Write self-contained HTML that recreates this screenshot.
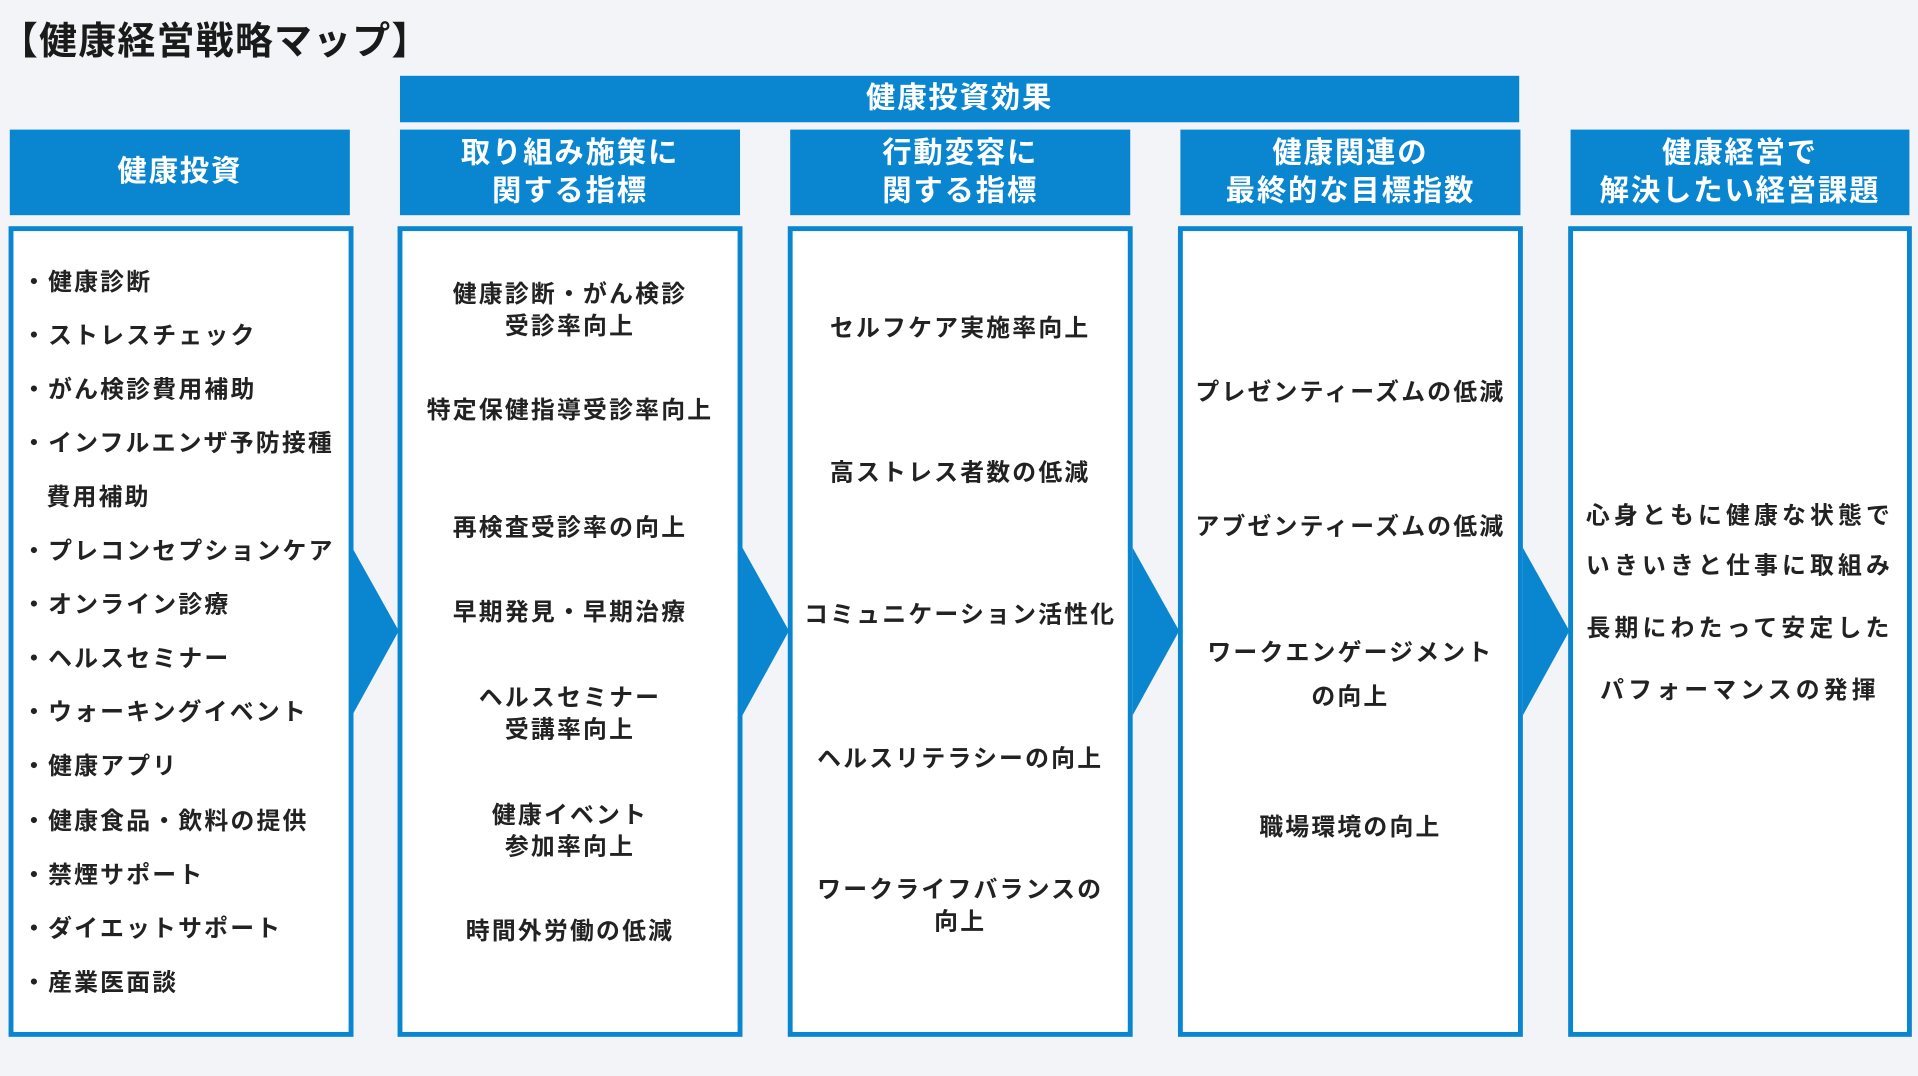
<!DOCTYPE html>
<html><head><meta charset="utf-8"><style>
html,body{margin:0;padding:0;background:#f3f4f8;width:1918px;height:1076px;overflow:hidden}
#s{position:absolute;left:0;top:0;width:1568px;height:880px;transform:scale(1.2232,1.2227);transform-origin:0 0;font-family:"Liberation Sans","Noto Sans CJK JP",sans-serif;color:#222}
.a{position:absolute}
.h{position:absolute;background:#0a86d1;color:#fff;font-weight:700;font-size:24px;text-align:center;line-height:31px;letter-spacing:1.5px}
.b{position:absolute;background:#fff;border:4px solid #0a86d1;box-sizing:border-box;top:185px;height:663px}
.t{position:absolute;font-size:19.5px;font-weight:700;line-height:26px;white-space:nowrap;color:#222;letter-spacing:1.8px}
.c{text-align:center}
.r{letter-spacing:3.4px}
</style></head><body><div id="s">
<div class="a" style="left:0;top:8px;font-size:31px;font-weight:700;color:#1a1a1a;letter-spacing:1px">【健康経営戦略マップ】</div>
<div class="h" style="left:327px;top:62px;width:915px;height:38px;line-height:38px">健康投資効果</div>
<div class="h" style="left:8px;top:106px;width:278px;height:70px;line-height:70px">健康投資</div>
<div class="h" style="left:327px;top:106px;width:278px;height:70px;padding-top:4px;box-sizing:border-box">取り組み施策に<br>関する指標</div>
<div class="h" style="left:646px;top:106px;width:278px;height:70px;padding-top:4px;box-sizing:border-box">行動変容に<br>関する指標</div>
<div class="h" style="left:965px;top:106px;width:278px;height:70px;padding-top:4px;box-sizing:border-box">健康関連の<br>最終的な目標指数</div>
<div class="h" style="left:1284px;top:106px;width:277px;height:70px;padding-top:4px;box-sizing:border-box">健康経営で<br>解決したい経営課題</div>
<div class="b" style="left:7px;width:282px"></div>
<div class="b" style="left:325px;width:282px"></div>
<div class="b" style="left:644px;width:282px"></div>
<div class="b" style="left:963px;width:282px"></div>
<div class="b" style="left:1282px;width:281px"></div>
<svg class="a" style="left:0;top:0" width="1568" height="880">
<g fill="#0a86d1">
<polygon points="288,448 326,516 288,585"/>
<polygon points="607,448 645,516 607,585"/>
<polygon points="926,448 964,516 926,585"/>
<polygon points="1245,448 1283,516 1245,585"/>
</g></svg>
<div class="t" style="left:18px;top:218px">・健康診断</div>
<div class="t" style="left:18px;top:262px">・ストレスチェック</div>
<div class="t" style="left:18px;top:306px">・がん検診費用補助</div>
<div class="t" style="left:18px;top:350px">・インフルエンザ予防接種</div>
<div class="t" style="left:38px;top:394px">費用補助</div>
<div class="t" style="left:18px;top:438px">・プレコンセプションケア</div>
<div class="t" style="left:18px;top:482px">・オンライン診療</div>
<div class="t" style="left:18px;top:526px">・ヘルスセミナー</div>
<div class="t" style="left:18px;top:570px">・ウォーキングイベント</div>
<div class="t" style="left:18px;top:614px">・健康アプリ</div>
<div class="t" style="left:18px;top:659px">・健康食品・飲料の提供</div>
<div class="t" style="left:18px;top:703px">・禁煙サポート</div>
<div class="t" style="left:18px;top:747px">・ダイエットサポート</div>
<div class="t" style="left:18px;top:791px">・産業医面談</div>

<div class="t c" style="left:327px;width:278px;top:228px">健康診断・がん検診<br>受診率向上</div>
<div class="t c" style="left:327px;width:278px;top:323px">特定保健指導受診率向上</div>
<div class="t c" style="left:327px;width:278px;top:419px">再検査受診率の向上</div>
<div class="t c" style="left:327px;width:278px;top:488px">早期発見・早期治療</div>
<div class="t c" style="left:327px;width:278px;top:558px">ヘルスセミナー<br>受講率向上</div>
<div class="t c" style="left:327px;width:278px;top:654px">健康イベント<br>参加率向上</div>
<div class="t c" style="left:327px;width:278px;top:749px">時間外労働の低減</div>

<div class="t c" style="left:646px;width:278px;top:256px">セルフケア実施率向上</div>
<div class="t c" style="left:646px;width:278px;top:374px">高ストレス者数の低減</div>
<div class="t c" style="left:646px;width:278px;top:490px">コミュニケーション活性化</div>
<div class="t c" style="left:646px;width:278px;top:608px">ヘルスリテラシーの向上</div>
<div class="t c" style="left:646px;width:278px;top:715px">ワークライフバランスの<br>向上</div>

<div class="t c" style="left:965px;width:278px;top:308px">プレゼンティーズムの低減</div>
<div class="t c" style="left:965px;width:278px;top:418px">アブゼンティーズムの低減</div>
<div class="t c" style="left:965px;width:278px;top:516px;line-height:36px">ワークエンゲージメント<br>の向上</div>
<div class="t c" style="left:965px;width:278px;top:664px">職場環境の向上</div>

<div class="t c r" style="left:1284px;width:277px;top:409px">心身ともに健康な状態で</div>
<div class="t c r" style="left:1284px;width:277px;top:450px">いきいきと仕事に取組み</div>
<div class="t c r" style="left:1284px;width:277px;top:501px">長期にわたって安定した</div>
<div class="t c r" style="left:1284px;width:277px;top:552px">パフォーマンスの発揮</div>
</div></body></html>
